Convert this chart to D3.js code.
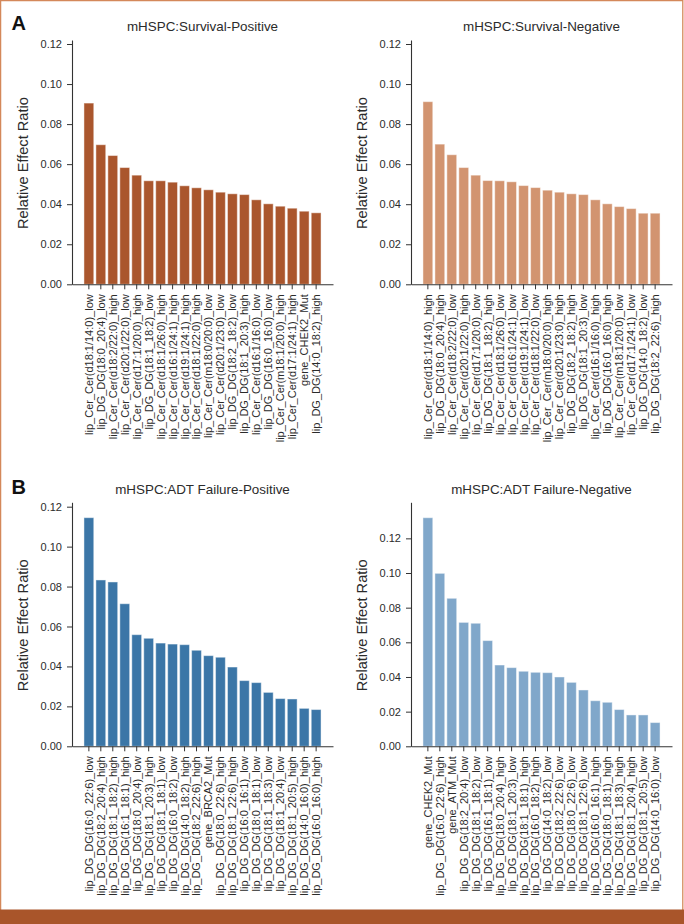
<!DOCTYPE html>
<html>
<head>
<meta charset="utf-8">
<script src="https://cdn.jsdelivr.net/npm/d3@7/dist/d3.min.js"></script>
<style>
  html, body { margin: 0; padding: 0; background: #fff; }
  svg { display: block; font-family: "Liberation Sans", Arial, Helvetica, sans-serif; }
</style>
</head>
<body>
<svg id="chart" width="684" height="924"></svg>
<script>
// ---------- Data ----------
const survPosLabels = [
  "lip_Cer_Cer(d18:1/14:0)_low", "lip_DG_DG(18:0_20:4)_low", "lip_Cer_Cer(d18:2/22:0)_high",
  "lip_Cer_Cer(d20:1/22:0)_low", "lip_Cer_Cer(d17:1/20:0)_high", "lip_DG_DG(18:1_18:2)_low",
  "lip_Cer_Cer(d18:1/26:0)_high", "lip_Cer_Cer(d16:1/24:1)_high", "lip_Cer_Cer(d19:1/24:1)_high",
  "lip_Cer_Cer(d18:1/22:0)_high", "lip_Cer_Cer(m18:0/20:0)_low", "lip_Cer_Cer(d20:1/23:0)_low",
  "lip_DG_DG(18:2_18:2)_low", "lip_DG_DG(18:1_20:3)_high", "lip_Cer_Cer(d16:1/16:0)_low",
  "lip_DG_DG(16:0_16:0)_low", "lip_Cer_Cer(m18:1/20:0)_high", "lip_Cer_Cer(d17:1/24:1)_high",
  "gene_CHEK2_Mut", "lip_DG_DG(14:0_18:2)_high"
];
const survPosValues = [0.0905, 0.0697, 0.0643, 0.0583, 0.0545, 0.0517, 0.0517, 0.0510, 0.0492, 0.0482,
  0.0472, 0.0460, 0.0452, 0.0448, 0.0422, 0.0402, 0.0390, 0.0380, 0.0365, 0.0357];

const survNegLabels = [
  "lip_Cer_Cer(d18:1/14:0)_high", "lip_DG_DG(18:0_20:4)_high", "lip_Cer_Cer(d18:2/22:0)_low",
  "lip_Cer_Cer(d20:1/22:0)_high", "lip_Cer_Cer(d17:1/20:0)_low", "lip_DG_DG(18:1_18:2)_high",
  "lip_Cer_Cer(d18:1/26:0)_low", "lip_Cer_Cer(d16:1/24:1)_low", "lip_Cer_Cer(d19:1/24:1)_low",
  "lip_Cer_Cer(d18:1/22:0)_low", "lip_Cer_Cer(m18:0/20:0)_high", "lip_Cer_Cer(d20:1/23:0)_high",
  "lip_DG_DG(18:2_18:2)_high", "lip_DG_DG(18:1_20:3)_low", "lip_Cer_Cer(d16:1/16:0)_high",
  "lip_DG_DG(16:0_16:0)_high", "lip_Cer_Cer(m18:1/20:0)_low", "lip_Cer_Cer(d17:1/24:1)_low",
  "lip_DG_DG(14:0_18:2)_low", "lip_DG_DG(18:2_22:6)_high"
];
const survNegValues = [0.0912, 0.0700, 0.0647, 0.0583, 0.0545, 0.0518, 0.0517, 0.0512, 0.0493, 0.0483,
  0.0470, 0.0460, 0.0452, 0.0448, 0.0422, 0.0402, 0.0388, 0.0378, 0.0355, 0.0355];

const adtPosLabels = [
  "lip_DG_DG(16:0_22:6)_low", "lip_DG_DG(18:2_20:4)_high", "lip_DG_DG(18:1_18:2)_high",
  "lip_DG_DG(16:1_18:1)_high", "lip_DG_DG(18:0_20:4)_low", "lip_DG_DG(18:1_20:3)_high",
  "lip_DG_DG(18:1_18:1)_low", "lip_DG_DG(16:0_18:2)_low", "lip_DG_DG(14:0_18:2)_high",
  "lip_DG_DG(18:2_22:6)_high", "gene_BRCA2_Mut", "lip_DG_DG(18:0_22:6)_high",
  "lip_DG_DG(18:1_22:6)_high", "lip_DG_DG(16:0_16:1)_low", "lip_DG_DG(18:0_18:1)_low",
  "lip_DG_DG(18:1_18:3)_low", "lip_DG_DG(18:1_20:4)_low", "lip_DG_DG(18:1_20:5)_high",
  "lip_DG_DG(14:0_16:0)_high", "lip_DG_DG(16:0_16:0)_high"
];
const adtPosValues = [0.1145, 0.0833, 0.0823, 0.0714, 0.0559, 0.0541, 0.0517, 0.0512, 0.0509, 0.0481,
  0.0454, 0.0446, 0.0397, 0.0329, 0.0319, 0.0270, 0.0239, 0.0237, 0.0190, 0.0184];

const adtNegLabels = [
  "gene_CHEK2_Mut", "lip_DG_DG(16:0_22:6)_high", "gene_ATM_Mut",
  "lip_DG_DG(18:2_20:4)_low", "lip_DG_DG(18:1_18:2)_low", "lip_DG_DG(16:1_18:1)_low",
  "lip_DG_DG(18:0_20:4)_high", "lip_DG_DG(18:1_20:3)_low", "lip_DG_DG(18:1_18:1)_high",
  "lip_DG_DG(16:0_18:2)_high", "lip_DG_DG(14:0_18:2)_low", "lip_DG_DG(18:2_22:6)_low",
  "lip_DG_DG(18:0_22:6)_low", "lip_DG_DG(18:1_22:6)_low", "lip_DG_DG(16:0_16:1)_high",
  "lip_DG_DG(18:0_18:1)_high", "lip_DG_DG(18:1_18:3)_high", "lip_DG_DG(18:1_20:4)_high",
  "lip_DG_DG(18:1_20:5)_low", "lip_DG_DG(14:0_16:0)_low"
];
const adtNegValues = [0.1319, 0.0998, 0.0854, 0.0715, 0.0710, 0.0610, 0.0469, 0.0454, 0.0433, 0.0427,
  0.0425, 0.0400, 0.0369, 0.0325, 0.0263, 0.0254, 0.0212, 0.0181, 0.0181, 0.0137];

const titles = ["mHSPC:Survival-Positive", "mHSPC:Survival-Negative",
                "mHSPC:ADT Failure-Positive", "mHSPC:ADT Failure-Negative"];
const yTicksAB = [0, 0.02, 0.04, 0.06, 0.08, 0.10, 0.12];
const yAxisTitle = "Relative Effect Ratio";
const panelLetters = ["A", "B"];

// ---------- Layout ----------
const svg = d3.select("#chart");
const W = 684, H = 924;

const panels = [
  { labels: survPosLabels, values: survPosValues, title: titles[0], color: "#aa562d",
    x0: 72, x1: 333, yTop: 40, yZero: 284.3, yMax: 0.122, titleY: 31, ylabX: 28 },
  { labels: survNegLabels, values: survNegValues, title: titles[1], color: "#d29470",
    x0: 411, x1: 672, yTop: 40, yZero: 284.3, yMax: 0.122, titleY: 31, ylabX: 367 },
  { labels: adtPosLabels, values: adtPosValues, title: titles[2], color: "#3b76a7",
    x0: 72, x1: 333, yTop: 502.3, yZero: 746.3, yMax: 0.1222, titleY: 493.5, ylabX: 28 },
  { labels: adtNegLabels, values: adtNegValues, title: titles[3], color: "#80a7ca",
    x0: 411, x1: 672, yTop: 502.3, yZero: 746.3, yMax: 0.1408, titleY: 493.5, ylabX: 367 }
];

const textColor = "#2b2b2b";
const axisColor = "#333";

panels.forEach(p => {
  const g = svg.append("g");
  const x = d3.scaleBand().domain(p.labels).range([p.x0, p.x1])
    .paddingInner(0.18).paddingOuter(1.0);
  const y = d3.scaleLinear().domain([0, p.yMax]).range([p.yZero, p.yTop]);

  // bars
  g.selectAll("rect.bar").data(p.values).enter().append("rect")
    .attr("class", "bar")
    .attr("x", (d, i) => x(p.labels[i]))
    .attr("width", x.bandwidth())
    .attr("y", d => y(d))
    .attr("height", d => y(0) - y(d))
    .attr("fill", p.color)
    .attr("stroke", "rgba(255,255,255,0.45)")
    .attr("stroke-width", 1);

  // y axis
  const ya = g.append("g").attr("transform", `translate(${p.x0},0)`)
    .call(d3.axisLeft(y).tickValues(yTicksAB).tickFormat(d3.format(".2f"))
      .tickSize(5).tickPadding(5).tickSizeOuter(0));
  ya.select(".domain").attr("stroke", axisColor).attr("stroke-width", 1.1);
  ya.selectAll(".tick line").attr("stroke", axisColor).attr("stroke-width", 1);
  ya.selectAll(".tick text").attr("fill", textColor)
    .style("font-size", "11px").style("font-family", "'Liberation Sans', Arial, sans-serif");

  // x axis
  const xa = g.append("g").attr("transform", `translate(0,${p.yZero})`)
    .call(d3.axisBottom(x).tickSize(5).tickPadding(5).tickSizeOuter(0));
  xa.select(".domain").attr("stroke", axisColor).attr("stroke-width", 1.1);
  xa.selectAll(".tick line").attr("stroke", axisColor).attr("stroke-width", 1);
  xa.selectAll(".tick text")
    .attr("fill", textColor)
    .style("font-size", "11px").style("font-family", "'Liberation Sans', Arial, sans-serif")
    .attr("text-anchor", "end")
    .attr("transform", "rotate(-90)")
    .attr("x", -10).attr("y", 0).attr("dy", "0.36em");

  // title
  g.append("text").attr("x", (p.x0 + p.x1) / 2).attr("y", p.titleY)
    .attr("text-anchor", "middle").attr("fill", textColor)
    .style("font-size", "13.4px").text(p.title);

  // y label
  const cy = (p.yTop + p.yZero) / 2 + 1;
  g.append("text").attr("transform", `translate(${p.ylabX},${cy}) rotate(-90)`)
    .attr("text-anchor", "middle").attr("fill", textColor)
    .style("font-size", "14.6px").text(yAxisTitle);
});

// panel letters
svg.append("text").attr("x", 11.5).attr("y", 29.5).attr("fill", "#111")
  .style("font-size", "20px").style("font-weight", "bold").text(panelLetters[0]);
svg.append("text").attr("x", 11.5).attr("y", 493.5).attr("fill", "#111")
  .style("font-size", "20px").style("font-weight", "bold").text(panelLetters[1]);

// frame and bottom band
svg.append("rect").attr("x", 0.6).attr("y", 0.6).attr("width", W - 1.8).attr("height", 912)
  .attr("fill", "none").attr("stroke", "#d4885a").attr("stroke-width", 1.3);
svg.append("rect").attr("x", 0).attr("y", 909.5).attr("width", W).attr("height", H - 909.5)
  .attr("fill", "#a9552a");
</script>
</body>
</html>
